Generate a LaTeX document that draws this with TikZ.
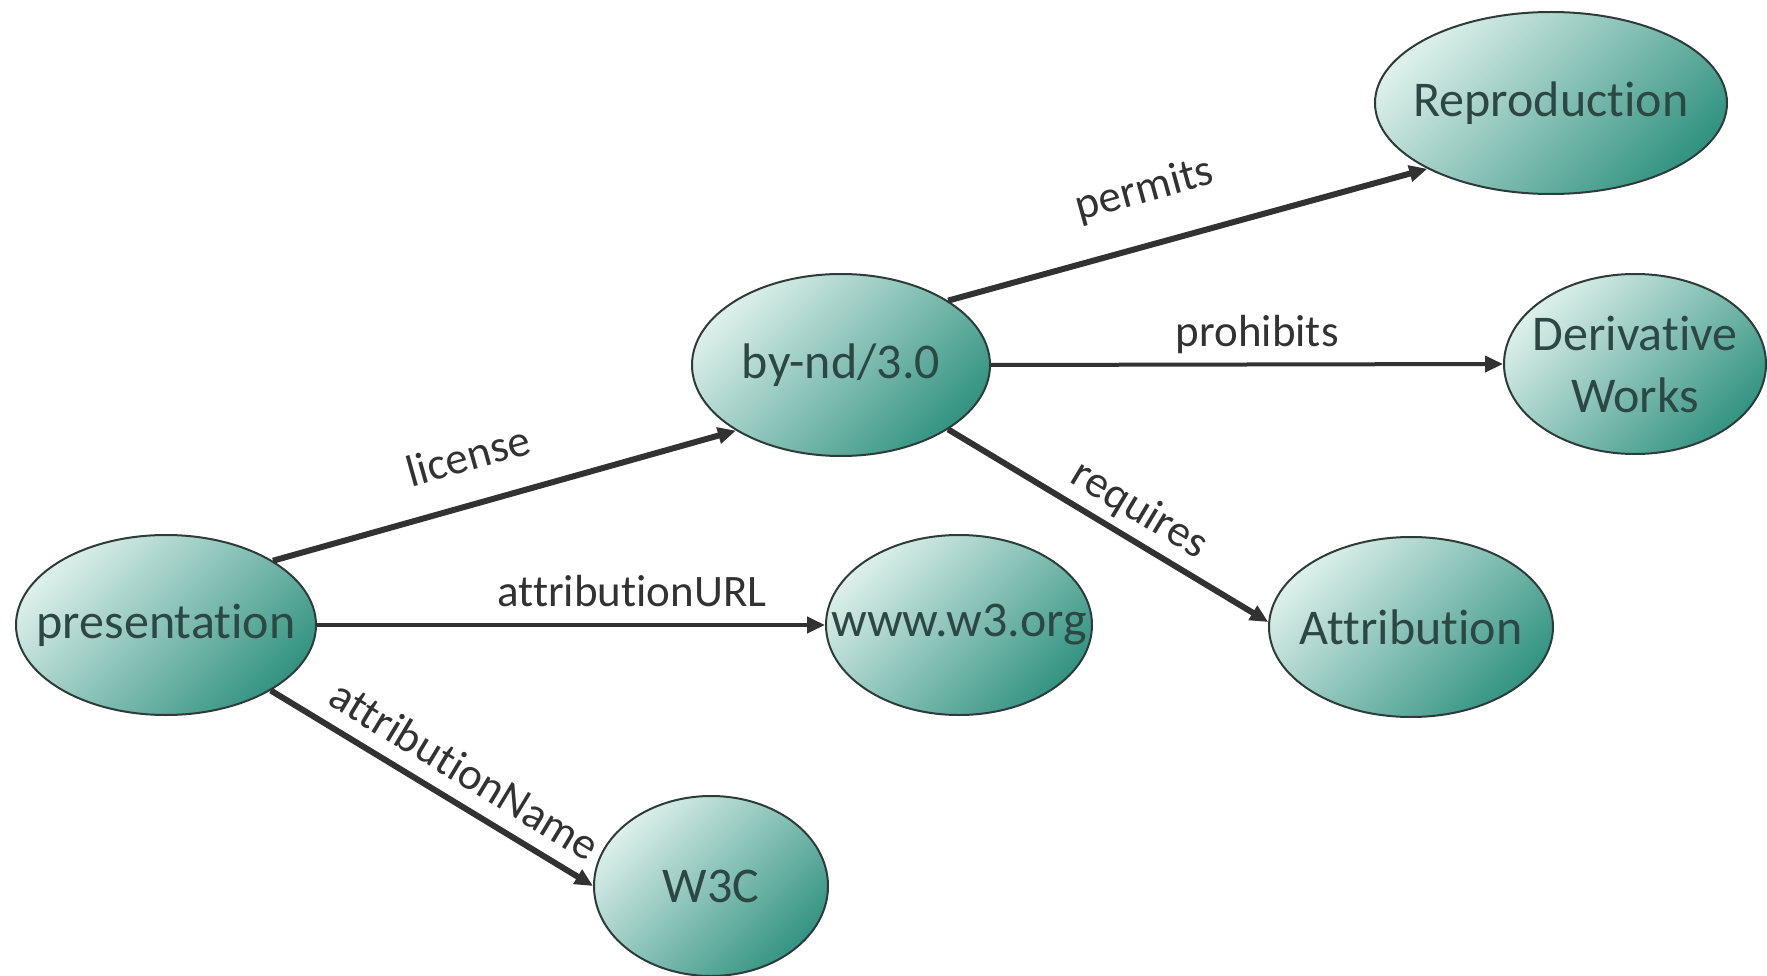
\documentclass[tikz,border=0pt]{standalone}
\usepackage{fontspec}
\setmainfont{Carlito}[RawFeature={-liga;-clig;-dlig;-calt}]
\usetikzlibrary{shapes.geometric,arrows.meta}
\definecolor{nodelight}{RGB}{220,239,234}
\definecolor{nodedark}{RGB}{52,148,130}
\definecolor{nodeline}{RGB}{45,60,58}
\definecolor{nodetext}{RGB}{45,72,68}
\definecolor{edgecol}{RGB}{50,50,50}
% text that does not widen its ellipse
\newcommand{\restext}[1]{\makebox[0pt]{#1}}
\begin{document}
	\begin{tikzpicture}[
			x=1pt, y=-1pt,
			res/.style={ellipse, draw=nodeline, line width=2pt, top color=nodelight, bottom color=nodedark, shading angle=45, text=nodetext, inner sep=0pt, minimum height=180pt, font=\fontsize{50}{62}\selectfont, align=center},
			rel/.style={draw=edgecol, line width=6pt, -{Triangle[length=18pt,width=16pt]}},
			thinrel/.style={rel, line width=4pt},
			lbl/.style={text=edgecol, font=\fontsize{45}{54}\selectfont, inner sep=4pt, above=12pt, sloped}
		]
		\useasboundingbox (0,0) rectangle (1767,976);
		\node[res, minimum width=300pt] (presentation) at (166,625) {\restext{presentation}};
		\node[res, minimum width=298pt, minimum height=182pt] (bynd) at (841,365) {\restext{by-nd/3.0}};
		\node[res, minimum width=352pt, minimum height=182pt] (repro) at (1551,103) {\restext{Reproduction}};
		\node[res, minimum width=262pt] (deriv) at (1635,364) {\restext{Derivative}\\\restext{Works}};
		\node[res, minimum width=266pt] (wwwnode) at (959,625) {\restext{www.w3.org}};
		\node[res, minimum width=284pt] (attrib) at (1411,627) {\restext{Attribution}};
		\node[res, minimum width=234pt] (wthreec) at (711,886) {\restext{W3C}};

		\draw[rel] (presentation.31) -- (bynd.212) node[lbl, pos=0.45, above=14pt] {license};
		\draw[rel] (bynd.31) -- (repro.208) node[lbl, pos=0.44, above=16pt] {permits};
		\draw[thinrel] (bynd.0) -- (deriv.180) node[lbl, pos=0.52, above=-7pt] {prohibits};
		\draw[rel] (bynd.329) -- (attrib.178) node[lbl, pos=0.55, above=-9pt] {requires};
		\draw[thinrel] (presentation.0) -- (wwwnode.180) node[lbl, pos=0.62] {attributionURL};
		\draw[rel] (presentation.328) -- (wthreec.180) node[lbl, pos=0.55, above=-2pt] {attributionName};
	\end{tikzpicture}
\end{document}
